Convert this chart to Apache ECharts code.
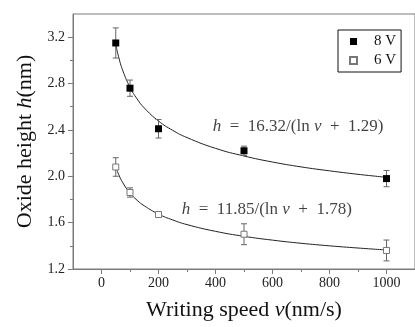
<!DOCTYPE html>
<html><head><meta charset="utf-8">
<script src="https://cdn.jsdelivr.net/npm/echarts@6/dist/echarts.min.js"></script>
<style>html,body{margin:0;padding:0;background:#fff}#c{width:415px;height:327px}</style>
</head><body><div id="c"></div>
<script>
// Measured points (writing speed nm/s, oxide height nm, error +/-)
const speeds = [50, 100, 200, 500, 1000];
const h8 = [3.15, 2.76, 2.41, 2.22, 1.98];
const e8 = [0.13, 0.07, 0.08, 0.04, 0.07];
const h6 = [2.08, 1.86, 1.67, 1.50, 1.36];
const e6 = [0.08, 0.04, 0.02, 0.09, 0.09];
// Fit curves
const fitV = [50, 60, 75, 100, 125, 150, 200, 250, 300, 400, 500, 600, 700, 800, 900, 1000];
const fit8 = [3.137, 3.031, 2.910, 2.768, 2.667, 2.590, 2.477, 2.396, 2.334, 2.241, 2.175, 2.123, 2.081, 2.047, 2.017, 1.991];
const fit6 = [2.082, 2.017, 1.943, 1.856, 1.793, 1.745, 1.674, 1.623, 1.583, 1.525, 1.482, 1.449, 1.422, 1.400, 1.381, 1.364];
// Axis ticks
const xMajor = [0, 200, 400, 600, 800, 1000];
const xMinor = [100, 300, 500, 700, 900];
const yMajor = [1.2, 1.6, 2.0, 2.4, 2.8, 3.2];
const yMinor = [1.4, 1.8, 2.2, 2.6, 3.0];
const eqTop = {v: 690, h: 2.43, c: '16.32', d: '1.29'};
const eqBot = {v: 580, h: 1.71, c: '11.85', d: '1.78'};

const FONT = '"Liberation Serif", "DejaVu Serif", serif';
const AX = '#7a7a7a';

function errSeries(vals, errs) {
  return {
    type: 'custom', xAxisIndex: 0, yAxisIndex: 0, silent: true, z: 3,
    data: speeds.map((v, i) => [v, vals[i] - errs[i], vals[i] + errs[i]]),
    renderItem: function (params, api) {
      const lo = api.coord([api.value(0), api.value(1)]);
      const hi = api.coord([api.value(0), api.value(2)]);
      const w = 3;
      const st = {stroke: '#666', lineWidth: 1};
      return {type: 'group', children: [
        {type: 'line', shape: {x1: lo[0], y1: lo[1], x2: hi[0], y2: hi[1]}, style: st},
        {type: 'line', shape: {x1: lo[0] - w, y1: lo[1], x2: lo[0] + w, y2: lo[1]}, style: st},
        {type: 'line', shape: {x1: hi[0] - w, y1: hi[1], x2: hi[0] + w, y2: hi[1]}, style: st}
      ]};
    }
  };
}
function eqLabel(eq) {
  return {
    type: 'scatter', xAxisIndex: 0, yAxisIndex: 0, symbolSize: 0, silent: true,
    data: [[eq.v, eq.h]],
    label: {show: true, position: 'inside',
      formatter: '{i|h}{n|  =  ' + eq.c + '/(ln }{i|v}{n|  +  ' + eq.d + ')}',
      rich: {i: {fontFamily: FONT, fontStyle: 'italic', fontSize: 17, color: '#111'},
             n: {fontFamily: FONT, fontSize: 17, color: '#111'}}}
  };
}
const nameRich = {n: {fontFamily: FONT, fontSize: 22, color: '#111'},
                  i: {fontFamily: FONT, fontSize: 22, fontStyle: 'italic', color: '#111'}};

const chart = echarts.init(document.getElementById('c'), null, {renderer: 'canvas'});
chart.setOption({
  animation: false,
  backgroundColor: '#fff',
  grid: {left: 73, top: 14, width: 346, height: 255, show: true, borderColor: AX, borderWidth: 1},
  legend: {
    left: 338, top: 30, orient: 'vertical',
    data: ['8 V', '6 V'],
    icon: 'rect', itemWidth: 7, itemHeight: 7, itemGap: 4,
    borderColor: '#111', borderWidth: 1, borderRadius: 0,
    padding: [4, 5, 4, 11],
    textStyle: {fontFamily: FONT, fontSize: 15, color: '#111', padding: [0, 0, 0, 12]}
  },
  xAxis: [{
    type: 'value', min: -100, max: 1100, interval: 100,
    name: '{n|Writing speed }{i|v}{n|(nm/s)}', nameLocation: 'middle', nameGap: 30,
    nameTextStyle: {rich: nameRich},
    axisLine: {show: true, onZero: false, lineStyle: {color: AX}},
    axisTick: {show: true, length: 5, lineStyle: {color: AX}, customValues: xMajor},
    axisLabel: {fontFamily: FONT, fontSize: 14, color: '#222', margin: 7, customValues: xMajor,
                formatter: v => String(v)},
    splitLine: {show: false}
  }, {
    type: 'value', min: -100, max: 1100, interval: 100, position: 'bottom',
    axisLine: {show: false, onZero: false},
    axisTick: {show: true, length: 3, lineStyle: {color: AX}, customValues: xMinor},
    axisLabel: {show: false}, splitLine: {show: false}
  }],
  yAxis: [{
    type: 'value', min: 1.2, max: 3.4, interval: 0.4,
    name: '{n|Oxide height }{i|h}{n|(nm)}', nameLocation: 'middle', nameGap: 33,
    nameTextStyle: {rich: nameRich},
    axisLine: {show: true, onZero: false, lineStyle: {color: AX}},
    axisTick: {show: true, length: 5, lineStyle: {color: AX}, customValues: yMajor},
    axisLabel: {fontFamily: FONT, fontSize: 14, color: '#222', margin: 8, customValues: yMajor,
                formatter: v => v.toFixed(1)},
    splitLine: {show: false}
  }, {
    type: 'value', min: 1.2, max: 3.4, interval: 0.4, position: 'left',
    axisLine: {show: false, onZero: false},
    axisTick: {show: true, length: 3, lineStyle: {color: AX}, customValues: yMinor},
    axisLabel: {show: false}, splitLine: {show: false}
  }],
  series: [
    {type: 'line', name: 'fit8', data: fitV.map((v, i) => [v, fit8[i]]), smooth: true, showSymbol: false,
     lineStyle: {color: '#222', width: 1}, silent: true, z: 2},
    {type: 'line', name: 'fit6', data: fitV.map((v, i) => [v, fit6[i]]), smooth: true, showSymbol: false,
     lineStyle: {color: '#222', width: 1}, silent: true, z: 2},
    errSeries(h8, e8),
    errSeries(h6, e6),
    {type: 'scatter', name: '8 V', symbol: 'rect', symbolSize: 7, z: 4,
     itemStyle: {color: '#000', opacity: 1},
     data: speeds.map((v, i) => [v, h8[i]])},
    {type: 'scatter', name: '6 V', symbol: 'rect', symbolSize: 6, z: 4,
     itemStyle: {color: '#fff', borderColor: '#777', borderWidth: 1, opacity: 1},
     data: speeds.map((v, i) => [v, h6[i]])},
    eqLabel(eqTop),
    eqLabel(eqBot)
  ]
});
</script></body></html>
